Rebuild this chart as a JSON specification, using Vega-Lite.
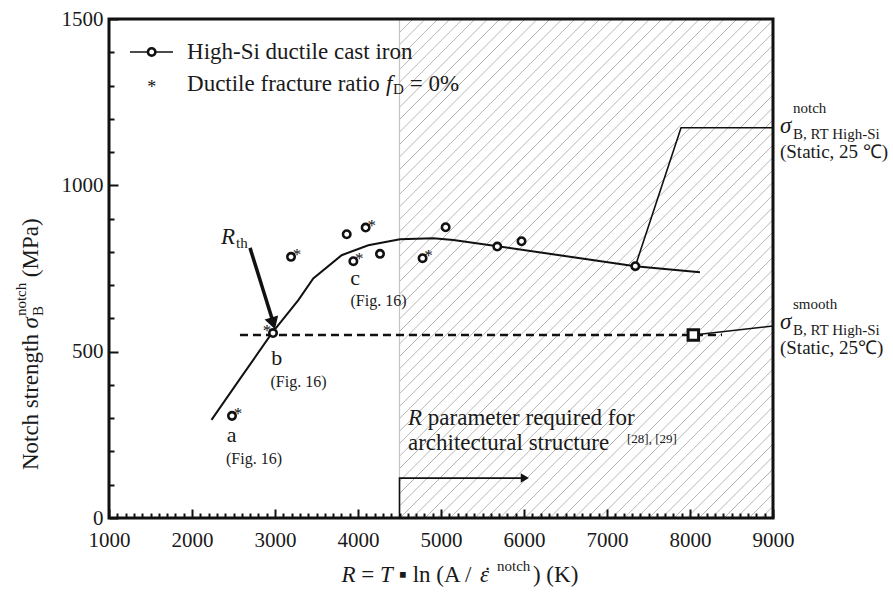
{
  "$schema": "https://vega.github.io/schema/vega-lite/v6.json",
  "width": 664,
  "height": 499,
  "autosize": "none",
  "padding": {"left": 109, "top": 19, "right": 120, "bottom": 76},
  "background": "white",
  "config": {"view": {"stroke": null}, "font": "Liberation Serif", "axis": {"labelFont": "Liberation Serif"}, "text": {"font": "Liberation Serif", "color": "#1a1a1a"}},
  "datasets": {
    "points": [
      {"R": 2482, "S": 307, "star": "right"},
      {"R": 2976, "S": 556, "star": "left"},
      {"R": 3193, "S": 785, "star": "right"},
      {"R": 3864, "S": 853, "star": "none"},
      {"R": 4092, "S": 873, "star": "right"},
      {"R": 3944, "S": 772, "star": "right"},
      {"R": 4265, "S": 794, "star": "none"},
      {"R": 4778, "S": 781, "star": "right"},
      {"R": 5056, "S": 874, "star": "none"},
      {"R": 5678, "S": 816, "star": "none"},
      {"R": 5970, "S": 832, "star": "none"},
      {"R": 7341, "S": 757, "star": "none"}
    ],
    "lines": [
      {"id": "fit", "o": 1, "R": 2235, "S": 295},
      {"id": "fit", "o": 2, "R": 2578, "S": 418},
      {"id": "fit", "o": 3, "R": 2960, "S": 555},
      {"id": "fit", "o": 4, "R": 3281, "S": 655},
      {"id": "fit", "o": 5, "R": 3461, "S": 720},
      {"id": "fit", "o": 6, "R": 3803, "S": 790},
      {"id": "fit", "o": 7, "R": 4124, "S": 820},
      {"id": "fit", "o": 8, "R": 4506, "S": 838},
      {"id": "fit", "o": 9, "R": 4907, "S": 841},
      {"id": "fit", "o": 10, "R": 5148, "S": 836},
      {"id": "fit", "o": 11, "R": 7341, "S": 757},
      {"id": "fit", "o": 12, "R": 8120, "S": 739},
      {"id": "lead1", "o": 1, "R": 7341, "S": 757},
      {"id": "lead1", "o": 2, "R": 7892, "S": 1173},
      {"id": "lead1", "o": 3, "R": 9000, "S": 1173},
      {"id": "lead2", "o": 1, "R": 8040, "S": 550},
      {"id": "lead2", "o": 2, "R": 9000, "S": 577},
      {"id": "rth", "o": 1, "R": 2699, "S": 812},
      {"id": "rth", "o": 2, "R": 2976, "S": 590},
      {"id": "rp", "o": 1, "R": 4500, "S": 0},
      {"id": "rp", "o": 2, "R": 4500, "S": 120},
      {"id": "rp", "o": 3, "R": 6010, "S": 120},
      {"id": "dash", "o": 1, "R": 2578, "S": 550},
      {"id": "dash", "o": 2, "R": 8386, "S": 550},
      {"id": "leg", "o": 1, "R": 1253, "S": 1401},
      {"id": "leg", "o": 2, "R": 1771, "S": 1401},
      {"id": "hb", "o": 1, "R": 4500, "S": 0},
      {"id": "hb", "o": 2, "R": 4500, "S": 1500}
    ],
    "boxes": [
      {"k": "hatch", "R": 4500, "R2": 9000, "S": 0, "S2": 1500},
      {"k": "frame", "R": 1000, "R2": 9000, "S": 0, "S2": 1500}
    ],
    "marks": [
      {"k": "square", "R": 8040, "S": 550},
      {"k": "legcircle", "R": 1514, "S": 1401},
      {"k": "legstar", "R": 1514, "S": 1305},
      {"k": "headrth", "R": 2978, "S": 585},
      {"k": "headrp", "R": 6010, "S": 120}
    ],
    "txt": [
      {"k": "lab", "t": "a", "R": 2478, "S": 249},
      {"k": "lab", "t": "b", "R": 3020, "S": 481},
      {"k": "lab", "t": "c", "R": 3964, "S": 721},
      {"k": "fig", "t": "(Fig. 16)", "R": 2747, "S": 177},
      {"k": "fig", "t": "(Fig. 16)", "R": 3283, "S": 409},
      {"k": "fig", "t": "(Fig. 16)", "R": 4247, "S": 652},
      {"k": "body", "t": "High-Si ductile cast iron", "R": 1940, "S": 1401},
      {"k": "body", "t": "Ductile fracture ratio", "R": 1940, "S": 1305},
      {"k": "body", "t": "= 0%", "R": 4624, "S": 1305},
      {"k": "body", "t": "parameter required for", "R": 4841, "S": 301},
      {"k": "body", "t": "architectural structure", "R": 4602, "S": 225},
      {"k": "ital", "t": "f", "R": 4337, "S": 1305},
      {"k": "ital", "t": "R", "R": 2349, "S": 845},
      {"k": "ital", "t": "R", "R": 4602, "S": 301},
      {"k": "sub", "t": "D", "R": 4422, "S": 1290},
      {"k": "sub", "t": "th", "R": 2530, "S": 827},
      {"k": "ref", "t": "[28], [29]", "R": 7241, "S": 237},
      {"k": "sig", "t": "σ", "R": 9084, "S": 1178},
      {"k": "sig", "t": "σ", "R": 9084, "S": 589},
      {"k": "small", "t": "notch", "R": 9241, "S": 1232},
      {"k": "small", "t": "B, RT High-Si", "R": 9241, "S": 1154},
      {"k": "small", "t": "smooth", "R": 9241, "S": 643},
      {"k": "small", "t": "B, RT High-Si", "R": 9241, "S": 565},
      {"k": "stat", "t": "(Static, 25 ℃)", "R": 9084, "S": 1100},
      {"k": "stat", "t": "(Static, 25℃)", "R": 9084, "S": 511},
      {"k": "xt", "t": "=", "R": 4040, "S": -192},
      {"k": "xt", "t": "▪ ln (A /", "R": 4491, "S": -192},
      {"k": "xt", "t": ") (K)", "R": 6108, "S": -192},
      {"k": "xti", "t": "R", "R": 3801, "S": -192},
      {"k": "xti", "t": "T", "R": 4265, "S": -192},
      {"k": "xti", "t": "ε", "R": 5470, "S": -192},
      {"k": "xdot", "t": "˙", "R": 5560, "S": -192},
      {"k": "xts", "t": "notch", "R": 5675, "S": -159},
      {"k": "yt", "t": "Notch strength", "R": 145, "S": 144},
      {"k": "yt", "t": "(MPa)", "R": 145, "S": 724},
      {"k": "yti", "t": "σ", "R": 145, "S": 570},
      {"k": "yts", "t": "B", "R": 205, "S": 607},
      {"k": "yts", "t": "notch", "R": 0, "S": 607}
    ]
  },
  "encoding": {
    "x": {
      "field": "R", "type": "quantitative",
      "scale": {"domain": [1000, 9000], "nice": false, "zero": false},
      "axis": {
        "title": null, "orient": "bottom", "tickCount": 80, "format": "d",
        "labelExpr": "datum.value % 1000 === 0 ? datum.label : ''",
        "labelOverlap": false, "labelFlush": false, "labelBound": false,
        "labelFont": "Liberation Serif", "labelFontSize": 21, "labelColor": "#1a1a1a",
        "labelPadding": 20, "domain": false, "grid": false,
        "tickColor": "#111", "tickWidth": 2, "tickSize": -9,
        "tickDash": {"condition": {"test": "datum.value % 1000 !== 0", "value": [5, 30]}, "value": [30, 0]},
        "zindex": 1
      }
    },
    "y": {
      "field": "S", "type": "quantitative",
      "scale": {"domain": [0, 1500], "nice": false, "zero": false},
      "axis": {
        "title": null, "orient": "left", "tickCount": 15, "format": "d",
        "labelExpr": "datum.value % 500 === 0 ? datum.label : ''",
        "labelOverlap": false, "labelFlush": false, "labelBound": false,
        "labelFont": "Liberation Serif", "labelFontSize": 21, "labelColor": "#1a1a1a",
        "labelPadding": 15, "domain": false, "grid": false,
        "tickColor": "#111", "tickWidth": 2, "tickSize": -9,
        "tickDash": {"condition": {"test": "datum.value % 500 !== 0", "value": [5, 30]}, "value": [30, 0]},
        "zindex": 1
      }
    }
  },
  "layer": [
    {
      "data": {"name": "boxes"},
      "transform": [{"filter": "datum.k === 'hatch'"}],
      "mark": {
        "type": "rect", "strokeWidth": 0,
        "fill": {
          "gradient": "linear", "x1": 0, "y1": 0, "x2": 0.8388, "y2": 1.1206,
          "stops": [
            {"offset": 0, "color": "#fff"}, {"offset": 0.001, "color": "#aaa"}, {"offset": 0.002, "color": "#fff"},
            {"offset": 0.0143, "color": "#fff"}, {"offset": 0.0153, "color": "#aaa"}, {"offset": 0.0163, "color": "#fff"},
            {"offset": 0.0286, "color": "#fff"}, {"offset": 0.0296, "color": "#aaa"}, {"offset": 0.0306, "color": "#fff"},
            {"offset": 0.0429, "color": "#fff"}, {"offset": 0.0439, "color": "#aaa"}, {"offset": 0.0449, "color": "#fff"},
            {"offset": 0.0571, "color": "#fff"}, {"offset": 0.0581, "color": "#aaa"}, {"offset": 0.0591, "color": "#fff"},
            {"offset": 0.0714, "color": "#fff"}, {"offset": 0.0724, "color": "#aaa"}, {"offset": 0.0734, "color": "#fff"},
            {"offset": 0.0857, "color": "#fff"}, {"offset": 0.0867, "color": "#aaa"}, {"offset": 0.0877, "color": "#fff"},
            {"offset": 0.1, "color": "#fff"}, {"offset": 0.101, "color": "#aaa"}, {"offset": 0.102, "color": "#fff"},
            {"offset": 0.1143, "color": "#fff"}, {"offset": 0.1153, "color": "#aaa"}, {"offset": 0.1163, "color": "#fff"},
            {"offset": 0.1286, "color": "#fff"}, {"offset": 0.1296, "color": "#aaa"}, {"offset": 0.1306, "color": "#fff"},
            {"offset": 0.1429, "color": "#fff"}, {"offset": 0.1439, "color": "#aaa"}, {"offset": 0.1449, "color": "#fff"},
            {"offset": 0.1571, "color": "#fff"}, {"offset": 0.1581, "color": "#aaa"}, {"offset": 0.1591, "color": "#fff"},
            {"offset": 0.1714, "color": "#fff"}, {"offset": 0.1724, "color": "#aaa"}, {"offset": 0.1734, "color": "#fff"},
            {"offset": 0.1857, "color": "#fff"}, {"offset": 0.1867, "color": "#aaa"}, {"offset": 0.1877, "color": "#fff"},
            {"offset": 0.2, "color": "#fff"}, {"offset": 0.201, "color": "#aaa"}, {"offset": 0.202, "color": "#fff"},
            {"offset": 0.2143, "color": "#fff"}, {"offset": 0.2153, "color": "#aaa"}, {"offset": 0.2163, "color": "#fff"},
            {"offset": 0.2286, "color": "#fff"}, {"offset": 0.2296, "color": "#aaa"}, {"offset": 0.2306, "color": "#fff"},
            {"offset": 0.2429, "color": "#fff"}, {"offset": 0.2439, "color": "#aaa"}, {"offset": 0.2449, "color": "#fff"},
            {"offset": 0.2571, "color": "#fff"}, {"offset": 0.2581, "color": "#aaa"}, {"offset": 0.2591, "color": "#fff"},
            {"offset": 0.2714, "color": "#fff"}, {"offset": 0.2724, "color": "#aaa"}, {"offset": 0.2734, "color": "#fff"},
            {"offset": 0.2857, "color": "#fff"}, {"offset": 0.2867, "color": "#aaa"}, {"offset": 0.2877, "color": "#fff"},
            {"offset": 0.3, "color": "#fff"}, {"offset": 0.301, "color": "#aaa"}, {"offset": 0.302, "color": "#fff"},
            {"offset": 0.3143, "color": "#fff"}, {"offset": 0.3153, "color": "#aaa"}, {"offset": 0.3163, "color": "#fff"},
            {"offset": 0.3286, "color": "#fff"}, {"offset": 0.3296, "color": "#aaa"}, {"offset": 0.3306, "color": "#fff"},
            {"offset": 0.3429, "color": "#fff"}, {"offset": 0.3439, "color": "#aaa"}, {"offset": 0.3449, "color": "#fff"},
            {"offset": 0.3571, "color": "#fff"}, {"offset": 0.3581, "color": "#aaa"}, {"offset": 0.3591, "color": "#fff"},
            {"offset": 0.3714, "color": "#fff"}, {"offset": 0.3724, "color": "#aaa"}, {"offset": 0.3734, "color": "#fff"},
            {"offset": 0.3857, "color": "#fff"}, {"offset": 0.3867, "color": "#aaa"}, {"offset": 0.3877, "color": "#fff"},
            {"offset": 0.4, "color": "#fff"}, {"offset": 0.401, "color": "#aaa"}, {"offset": 0.402, "color": "#fff"},
            {"offset": 0.4143, "color": "#fff"}, {"offset": 0.4153, "color": "#aaa"}, {"offset": 0.4163, "color": "#fff"},
            {"offset": 0.4286, "color": "#fff"}, {"offset": 0.4296, "color": "#aaa"}, {"offset": 0.4306, "color": "#fff"},
            {"offset": 0.4429, "color": "#fff"}, {"offset": 0.4439, "color": "#aaa"}, {"offset": 0.4449, "color": "#fff"},
            {"offset": 0.4571, "color": "#fff"}, {"offset": 0.4581, "color": "#aaa"}, {"offset": 0.4591, "color": "#fff"},
            {"offset": 0.4714, "color": "#fff"}, {"offset": 0.4724, "color": "#aaa"}, {"offset": 0.4734, "color": "#fff"},
            {"offset": 0.4857, "color": "#fff"}, {"offset": 0.4867, "color": "#aaa"}, {"offset": 0.4877, "color": "#fff"},
            {"offset": 0.5, "color": "#fff"}, {"offset": 0.501, "color": "#aaa"}, {"offset": 0.502, "color": "#fff"},
            {"offset": 0.5143, "color": "#fff"}, {"offset": 0.5153, "color": "#aaa"}, {"offset": 0.5163, "color": "#fff"},
            {"offset": 0.5286, "color": "#fff"}, {"offset": 0.5296, "color": "#aaa"}, {"offset": 0.5306, "color": "#fff"},
            {"offset": 0.5429, "color": "#fff"}, {"offset": 0.5439, "color": "#aaa"}, {"offset": 0.5449, "color": "#fff"},
            {"offset": 0.5571, "color": "#fff"}, {"offset": 0.5581, "color": "#aaa"}, {"offset": 0.5591, "color": "#fff"},
            {"offset": 0.5714, "color": "#fff"}, {"offset": 0.5724, "color": "#aaa"}, {"offset": 0.5734, "color": "#fff"},
            {"offset": 0.5857, "color": "#fff"}, {"offset": 0.5867, "color": "#aaa"}, {"offset": 0.5877, "color": "#fff"},
            {"offset": 0.6, "color": "#fff"}, {"offset": 0.601, "color": "#aaa"}, {"offset": 0.602, "color": "#fff"},
            {"offset": 0.6143, "color": "#fff"}, {"offset": 0.6153, "color": "#aaa"}, {"offset": 0.6163, "color": "#fff"},
            {"offset": 0.6286, "color": "#fff"}, {"offset": 0.6296, "color": "#aaa"}, {"offset": 0.6306, "color": "#fff"},
            {"offset": 0.6429, "color": "#fff"}, {"offset": 0.6439, "color": "#aaa"}, {"offset": 0.6449, "color": "#fff"},
            {"offset": 0.6571, "color": "#fff"}, {"offset": 0.6581, "color": "#aaa"}, {"offset": 0.6591, "color": "#fff"},
            {"offset": 0.6714, "color": "#fff"}, {"offset": 0.6724, "color": "#aaa"}, {"offset": 0.6734, "color": "#fff"},
            {"offset": 0.6857, "color": "#fff"}, {"offset": 0.6867, "color": "#aaa"}, {"offset": 0.6877, "color": "#fff"},
            {"offset": 0.7, "color": "#fff"}, {"offset": 0.701, "color": "#aaa"}, {"offset": 0.702, "color": "#fff"},
            {"offset": 0.7143, "color": "#fff"}, {"offset": 0.7153, "color": "#aaa"}, {"offset": 0.7163, "color": "#fff"},
            {"offset": 0.7286, "color": "#fff"}, {"offset": 0.7296, "color": "#aaa"}, {"offset": 0.7306, "color": "#fff"},
            {"offset": 0.7429, "color": "#fff"}, {"offset": 0.7439, "color": "#aaa"}, {"offset": 0.7449, "color": "#fff"},
            {"offset": 0.7571, "color": "#fff"}, {"offset": 0.7581, "color": "#aaa"}, {"offset": 0.7591, "color": "#fff"},
            {"offset": 0.7714, "color": "#fff"}, {"offset": 0.7724, "color": "#aaa"}, {"offset": 0.7734, "color": "#fff"},
            {"offset": 0.7857, "color": "#fff"}, {"offset": 0.7867, "color": "#aaa"}, {"offset": 0.7877, "color": "#fff"},
            {"offset": 0.8, "color": "#fff"}, {"offset": 0.801, "color": "#aaa"}, {"offset": 0.802, "color": "#fff"},
            {"offset": 0.8143, "color": "#fff"}, {"offset": 0.8153, "color": "#aaa"}, {"offset": 0.8163, "color": "#fff"},
            {"offset": 0.8286, "color": "#fff"}, {"offset": 0.8296, "color": "#aaa"}, {"offset": 0.8306, "color": "#fff"},
            {"offset": 0.8429, "color": "#fff"}, {"offset": 0.8439, "color": "#aaa"}, {"offset": 0.8449, "color": "#fff"},
            {"offset": 0.8571, "color": "#fff"}, {"offset": 0.8581, "color": "#aaa"}, {"offset": 0.8591, "color": "#fff"},
            {"offset": 0.8714, "color": "#fff"}, {"offset": 0.8724, "color": "#aaa"}, {"offset": 0.8734, "color": "#fff"},
            {"offset": 0.8857, "color": "#fff"}, {"offset": 0.8867, "color": "#aaa"}, {"offset": 0.8877, "color": "#fff"},
            {"offset": 0.9, "color": "#fff"}, {"offset": 0.901, "color": "#aaa"}, {"offset": 0.902, "color": "#fff"},
            {"offset": 0.9143, "color": "#fff"}, {"offset": 0.9153, "color": "#aaa"}, {"offset": 0.9163, "color": "#fff"},
            {"offset": 0.9286, "color": "#fff"}, {"offset": 0.9296, "color": "#aaa"}, {"offset": 0.9306, "color": "#fff"},
            {"offset": 0.9429, "color": "#fff"}, {"offset": 0.9439, "color": "#aaa"}, {"offset": 0.9449, "color": "#fff"},
            {"offset": 0.9571, "color": "#fff"}, {"offset": 0.9581, "color": "#aaa"}, {"offset": 0.9591, "color": "#fff"},
            {"offset": 0.9714, "color": "#fff"}, {"offset": 0.9724, "color": "#aaa"}, {"offset": 0.9734, "color": "#fff"},
            {"offset": 0.9857, "color": "#fff"}, {"offset": 0.9867, "color": "#aaa"}, {"offset": 0.9877, "color": "#fff"},
            {"offset": 1, "color": "#fff"}
          ]
        }
      },
      "encoding": {"x2": {"field": "R2"}, "y2": {"field": "S2"}}
    },
    {
      "data": {"name": "lines"},
      "transform": [{"filter": "datum.id === 'hb'"}],
      "mark": {"type": "line", "color": "#c4c4c4", "strokeWidth": 1.2},
      "encoding": {"detail": {"field": "id"}, "order": {"field": "o"}}
    },
    {
      "data": {"name": "lines"},
      "transform": [{"filter": "datum.id === 'fit'"}],
      "mark": {"type": "line", "color": "#111", "strokeWidth": 2},
      "encoding": {"detail": {"field": "id"}, "order": {"field": "o"}}
    },
    {
      "data": {"name": "lines"},
      "transform": [{"filter": "datum.id === 'dash'"}],
      "mark": {"type": "line", "color": "#111", "strokeWidth": 2.5, "strokeDash": [8, 5]},
      "encoding": {"detail": {"field": "id"}, "order": {"field": "o"}}
    },
    {
      "data": {"name": "lines"},
      "transform": [{"filter": "datum.id === 'lead1' || datum.id === 'lead2' || datum.id === 'rp' || datum.id === 'leg'"}],
      "mark": {"type": "line", "color": "#111", "strokeWidth": 1.6},
      "encoding": {"detail": {"field": "id"}, "order": {"field": "o"}}
    },
    {
      "data": {"name": "lines"},
      "transform": [{"filter": "datum.id === 'rth'"}],
      "mark": {"type": "line", "color": "#111", "strokeWidth": 3.5},
      "encoding": {"detail": {"field": "id"}, "order": {"field": "o"}}
    },
    {
      "data": {"name": "marks"},
      "transform": [{"filter": "datum.k === 'headrth'"}],
      "mark": {"type": "point", "shape": "triangle-down", "size": 200, "angle": -17, "filled": true, "color": "#111", "opacity": 1}
    },
    {
      "data": {"name": "marks"},
      "transform": [{"filter": "datum.k === 'headrp'"}],
      "mark": {"type": "point", "shape": "triangle-right", "size": 90, "filled": true, "color": "#111", "opacity": 1}
    },
    {
      "data": {"name": "points"},
      "mark": {"type": "point", "shape": "circle", "size": 55, "filled": true, "fill": "white", "stroke": "#111", "strokeWidth": 2.6, "opacity": 1}
    },
    {
      "data": {"name": "marks"},
      "transform": [{"filter": "datum.k === 'legcircle'"}],
      "mark": {"type": "point", "shape": "circle", "size": 55, "filled": true, "fill": "white", "stroke": "#111", "strokeWidth": 2.6, "opacity": 1}
    },
    {
      "data": {"name": "marks"},
      "transform": [{"filter": "datum.k === 'square'"}],
      "mark": {"type": "point", "shape": "square", "size": 110, "filled": true, "fill": "white", "stroke": "#111", "strokeWidth": 3, "opacity": 1}
    },
    {
      "data": {"name": "points"},
      "transform": [{"filter": "datum.star === 'right'"}],
      "mark": {"type": "text", "text": "*", "color": "#111", "fontSize": 17, "align": "center", "baseline": "alphabetic", "dx": 6, "dy": 3}
    },
    {
      "data": {"name": "points"},
      "transform": [{"filter": "datum.star === 'left'"}],
      "mark": {"type": "text", "text": "*", "color": "#111", "fontSize": 17, "align": "center", "baseline": "alphabetic", "dx": -6, "dy": 3}
    },
    {
      "data": {"name": "marks"},
      "transform": [{"filter": "datum.k === 'legstar'"}],
      "mark": {"type": "text", "text": "*", "color": "#111", "fontSize": 18, "align": "center", "baseline": "alphabetic", "dy": 9}
    },
    {
      "data": {"name": "boxes"},
      "transform": [{"filter": "datum.k === 'frame'"}],
      "mark": {"type": "rect", "fill": null, "fillOpacity": 0, "stroke": "#111", "strokeWidth": 3},
      "encoding": {"x2": {"field": "R2"}, "y2": {"field": "S2"}}
    },
    {
      "data": {"name": "txt"},
      "transform": [{"filter": "datum.k === 'lab'"}],
      "mark": {"type": "text", "fontSize": 22, "align": "center", "baseline": "middle"},
      "encoding": {"text": {"field": "t"}}
    },
    {
      "data": {"name": "txt"},
      "transform": [{"filter": "datum.k === 'fig'"}],
      "mark": {"type": "text", "fontSize": 16, "align": "center", "baseline": "middle"},
      "encoding": {"text": {"field": "t"}}
    },
    {
      "data": {"name": "txt"},
      "transform": [{"filter": "datum.k === 'body'"}],
      "mark": {"type": "text", "fontSize": 23, "align": "left", "baseline": "middle"},
      "encoding": {"text": {"field": "t"}}
    },
    {
      "data": {"name": "txt"},
      "transform": [{"filter": "datum.k === 'ital'"}],
      "mark": {"type": "text", "fontSize": 23, "fontStyle": "italic", "align": "left", "baseline": "middle"},
      "encoding": {"text": {"field": "t"}}
    },
    {
      "data": {"name": "txt"},
      "transform": [{"filter": "datum.k === 'sub'"}],
      "mark": {"type": "text", "fontSize": 15, "align": "left", "baseline": "middle"},
      "encoding": {"text": {"field": "t"}}
    },
    {
      "data": {"name": "txt"},
      "transform": [{"filter": "datum.k === 'ref'"}],
      "mark": {"type": "text", "fontSize": 13, "align": "left", "baseline": "middle"},
      "encoding": {"text": {"field": "t"}}
    },
    {
      "data": {"name": "txt"},
      "transform": [{"filter": "datum.k === 'sig'"}],
      "mark": {"type": "text", "fontSize": 23, "fontStyle": "italic", "align": "left", "baseline": "middle"},
      "encoding": {"text": {"field": "t"}}
    },
    {
      "data": {"name": "txt"},
      "transform": [{"filter": "datum.k === 'small'"}],
      "mark": {"type": "text", "fontSize": 15, "align": "left", "baseline": "middle"},
      "encoding": {"text": {"field": "t"}}
    },
    {
      "data": {"name": "txt"},
      "transform": [{"filter": "datum.k === 'stat'"}],
      "mark": {"type": "text", "fontSize": 19, "align": "left", "baseline": "middle"},
      "encoding": {"text": {"field": "t"}}
    },
    {
      "data": {"name": "txt"},
      "transform": [{"filter": "datum.k === 'xt'"}],
      "mark": {"type": "text", "fontSize": 23, "align": "left", "baseline": "alphabetic"},
      "encoding": {"text": {"field": "t"}}
    },
    {
      "data": {"name": "txt"},
      "transform": [{"filter": "datum.k === 'xdot'"}],
      "mark": {"type": "text", "fontSize": 23, "align": "center", "baseline": "alphabetic", "dy": 1},
      "encoding": {"text": {"field": "t"}}
    },
    {
      "data": {"name": "txt"},
      "transform": [{"filter": "datum.k === 'xti'"}],
      "mark": {"type": "text", "fontSize": 23, "fontStyle": "italic", "align": "left", "baseline": "alphabetic"},
      "encoding": {"text": {"field": "t"}}
    },
    {
      "data": {"name": "txt"},
      "transform": [{"filter": "datum.k === 'xts'"}],
      "mark": {"type": "text", "fontSize": 15, "align": "left", "baseline": "alphabetic"},
      "encoding": {"text": {"field": "t"}}
    },
    {
      "data": {"name": "txt"},
      "transform": [{"filter": "datum.k === 'yt'"}],
      "mark": {"type": "text", "fontSize": 23, "angle": 270, "align": "left", "baseline": "alphabetic"},
      "encoding": {"text": {"field": "t"}}
    },
    {
      "data": {"name": "txt"},
      "transform": [{"filter": "datum.k === 'yti'"}],
      "mark": {"type": "text", "fontSize": 23, "fontStyle": "italic", "angle": 270, "align": "left", "baseline": "alphabetic"},
      "encoding": {"text": {"field": "t"}}
    },
    {
      "data": {"name": "txt"},
      "transform": [{"filter": "datum.k === 'yts'"}],
      "mark": {"type": "text", "fontSize": 15, "angle": 270, "align": "left", "baseline": "alphabetic"},
      "encoding": {"text": {"field": "t"}}
    }
  ]
}
